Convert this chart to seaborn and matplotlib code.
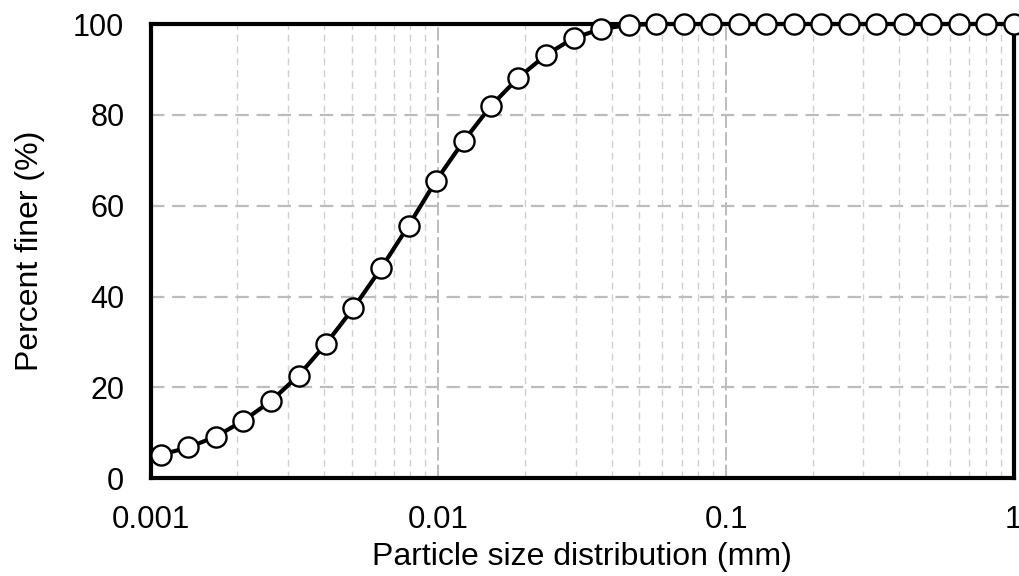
import matplotlib
matplotlib.use("Agg")
import matplotlib.pyplot as plt
import matplotlib.ticker as mticker
import seaborn as sns
import pandas as pd

# Particle sizes (mm) and cumulative percent finer
particle_size_mm = [
    0.001086, 0.001353, 0.001687, 0.002102, 0.002619, 0.003265, 0.004068,
    0.005070, 0.006320, 0.007875, 0.009813, 0.01223, 0.01524, 0.01899,
    0.02367, 0.02950, 0.03676, 0.04581, 0.05709, 0.07115, 0.08867,
    0.1105, 0.1377, 0.1716, 0.2139, 0.2666, 0.3322, 0.4140, 0.5160,
    0.6430, 0.8013, 1.0,
]
percent_finer = [
    5.2, 6.8, 9.2, 12.7, 17.0, 22.6, 29.6, 37.5, 46.2, 55.6, 65.5,
    74.2, 82.0, 88.2, 93.2, 96.9, 98.9, 99.8, 100, 100, 100,
    100, 100, 100, 100, 100, 100, 100, 100, 100, 100, 100,
]
x_tick_values = [0.001, 0.01, 0.1, 1]
x_tick_labels = ["0.001", "0.01", "0.1", "1"]
y_tick_values = [0, 20, 40, 60, 80, 100]

df = pd.DataFrame({"size": particle_size_mm, "finer": percent_finer})

sns.set_style("white")
plt.rcParams["font.family"] = ["Liberation Sans", "DejaVu Sans"]
plt.rcParams["text.color"] = "black"
plt.rcParams["axes.labelcolor"] = "black"

fig = plt.figure(figsize=(10.2, 5.76), dpi=100)
ax = fig.add_axes([0.1477, 0.1696, 0.8462, 0.7887])

sns.lineplot(
    data=df, x="size", y="finer", ax=ax,
    color="black", linewidth=3.0,
    marker="o", markersize=14.5, markerfacecolor="white",
    markeredgecolor="black", markeredgewidth=1.7,
    clip_on=False, zorder=5,
)

ax.set_xscale("log")
ax.set_xlim(0.001, 1)
ax.set_ylim(0, 100)

ax.xaxis.set_major_locator(mticker.FixedLocator(x_tick_values))
ax.xaxis.set_major_formatter(mticker.FixedFormatter(x_tick_labels))
ax.xaxis.set_minor_locator(mticker.LogLocator(base=10, subs=range(2, 10)))
ax.xaxis.set_minor_formatter(mticker.NullFormatter())
ax.yaxis.set_major_locator(mticker.FixedLocator(y_tick_values))

# Grid lines
ax.grid(which="major", axis="y", color="#bcbcbc", linestyle=(0, (6, 3.5)), linewidth=1.6)
ax.grid(which="major", axis="x", color="#b0b0b0", linestyle=(0, (8, 2.5)), linewidth=1.2)
ax.grid(which="minor", axis="x", color="#d0d0d0", linestyle=(0, (5, 3.5)), linewidth=1.0)
ax.set_axisbelow(True)

for side in ["left", "right", "top", "bottom"]:
    ax.spines[side].set_visible(True)
    ax.spines[side].set_color("black")
    ax.spines[side].set_linewidth(3.0)
    ax.spines[side].set_zorder(4)

ax.tick_params(axis="x", which="major", direction="inout", length=13, width=2.8,
               labelsize=22.5, pad=13, colors="black")
ax.tick_params(axis="x", which="minor", direction="out", length=6.5, width=2.6,
               colors="black")
ax.tick_params(axis="y", which="major", direction="inout", length=12, width=2.8,
               labelsize=22, pad=13, colors="black")

ax.set_xlabel("Particle size distribution (mm)", fontsize=23, labelpad=5)
ax.set_ylabel("Percent finer (%)", fontsize=23, labelpad=20)

fig.savefig("out.png", dpi=100, facecolor="white")
